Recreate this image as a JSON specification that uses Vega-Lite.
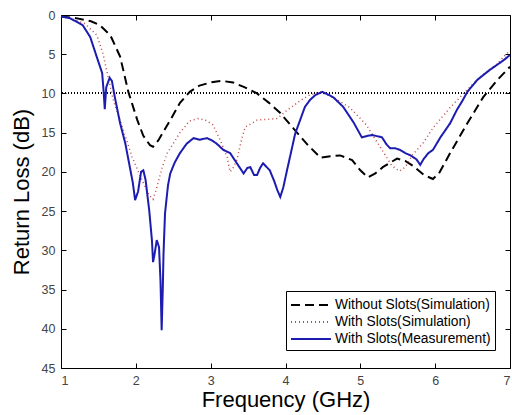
{
  "$schema": "https://vega.github.io/schema/vega-lite/v6.json",
  "width": 449,
  "height": 353,
  "autosize": {"type": "none"},
  "padding": {"left": 61, "top": 15, "right": 2, "bottom": 47},
  "background": "white",
  "config": {
    "view": {"stroke": "black", "strokeWidth": 1},
    "font": "Liberation Sans",
    "axis": {
      "grid": false,
      "domainColor": "black",
      "tickColor": "black",
      "labelColor": "#444444",
      "labelFont": "Liberation Sans",
      "labelFontSize": 12.5,
      "titleFont": "Liberation Sans",
      "titleFontWeight": "normal",
      "titleFontSize": 22,
      "titleColor": "black",
      "tickSize": -5
    },
    "legend": {
      "strokeColor": "black",
      "fillColor": "white",
      "padding": 4,
      "cornerRadius": 0
    }
  },
  "data": {
    "values": [
      {"f": 1.0, "rl": 0.2, "series": "Without Slots(Simulation)"},
      {"f": 1.2, "rl": 0.4, "series": "Without Slots(Simulation)"},
      {"f": 1.4, "rl": 0.8, "series": "Without Slots(Simulation)"},
      {"f": 1.52, "rl": 1.3, "series": "Without Slots(Simulation)"},
      {"f": 1.66, "rl": 2.6, "series": "Without Slots(Simulation)"},
      {"f": 1.79, "rl": 5.3, "series": "Without Slots(Simulation)"},
      {"f": 1.9, "rl": 9.8, "series": "Without Slots(Simulation)"},
      {"f": 2.02, "rl": 13.4, "series": "Without Slots(Simulation)"},
      {"f": 2.1, "rl": 15.4, "series": "Without Slots(Simulation)"},
      {"f": 2.19, "rl": 16.6, "series": "Without Slots(Simulation)"},
      {"f": 2.23, "rl": 16.8, "series": "Without Slots(Simulation)"},
      {"f": 2.3, "rl": 16.0, "series": "Without Slots(Simulation)"},
      {"f": 2.46, "rl": 13.4, "series": "Without Slots(Simulation)"},
      {"f": 2.59, "rl": 11.2, "series": "Without Slots(Simulation)"},
      {"f": 2.72, "rl": 9.8, "series": "Without Slots(Simulation)"},
      {"f": 2.85, "rl": 9.0, "series": "Without Slots(Simulation)"},
      {"f": 3.0, "rl": 8.6, "series": "Without Slots(Simulation)"},
      {"f": 3.15, "rl": 8.4, "series": "Without Slots(Simulation)"},
      {"f": 3.3, "rl": 8.6, "series": "Without Slots(Simulation)"},
      {"f": 3.45, "rl": 9.2, "series": "Without Slots(Simulation)"},
      {"f": 3.62, "rl": 10.0, "series": "Without Slots(Simulation)"},
      {"f": 3.78, "rl": 11.2, "series": "Without Slots(Simulation)"},
      {"f": 3.93, "rl": 12.5, "series": "Without Slots(Simulation)"},
      {"f": 4.1, "rl": 14.4, "series": "Without Slots(Simulation)"},
      {"f": 4.3, "rl": 16.6, "series": "Without Slots(Simulation)"},
      {"f": 4.47, "rl": 18.2, "series": "Without Slots(Simulation)"},
      {"f": 4.6, "rl": 18.0, "series": "Without Slots(Simulation)"},
      {"f": 4.73, "rl": 17.9, "series": "Without Slots(Simulation)"},
      {"f": 4.89, "rl": 18.5, "series": "Without Slots(Simulation)"},
      {"f": 5.0, "rl": 19.8, "series": "Without Slots(Simulation)"},
      {"f": 5.1, "rl": 20.7, "series": "Without Slots(Simulation)"},
      {"f": 5.2, "rl": 20.2, "series": "Without Slots(Simulation)"},
      {"f": 5.3, "rl": 19.4, "series": "Without Slots(Simulation)"},
      {"f": 5.49, "rl": 18.3, "series": "Without Slots(Simulation)"},
      {"f": 5.6, "rl": 18.6, "series": "Without Slots(Simulation)"},
      {"f": 5.7, "rl": 19.2, "series": "Without Slots(Simulation)"},
      {"f": 5.85, "rl": 20.4, "series": "Without Slots(Simulation)"},
      {"f": 5.97, "rl": 20.9, "series": "Without Slots(Simulation)"},
      {"f": 6.05, "rl": 20.2, "series": "Without Slots(Simulation)"},
      {"f": 6.2, "rl": 17.6, "series": "Without Slots(Simulation)"},
      {"f": 6.43, "rl": 13.8, "series": "Without Slots(Simulation)"},
      {"f": 6.64, "rl": 10.5, "series": "Without Slots(Simulation)"},
      {"f": 6.83, "rl": 8.3, "series": "Without Slots(Simulation)"},
      {"f": 7.0, "rl": 6.6, "series": "Without Slots(Simulation)"},

      {"f": 1.0, "rl": 0.2, "series": "With Slots(Simulation)"},
      {"f": 1.15, "rl": 0.5, "series": "With Slots(Simulation)"},
      {"f": 1.32, "rl": 1.1, "series": "With Slots(Simulation)"},
      {"f": 1.48, "rl": 2.6, "series": "With Slots(Simulation)"},
      {"f": 1.56, "rl": 4.9, "series": "With Slots(Simulation)"},
      {"f": 1.63, "rl": 7.9, "series": "With Slots(Simulation)"},
      {"f": 1.7, "rl": 10.9, "series": "With Slots(Simulation)"},
      {"f": 1.82, "rl": 14.3, "series": "With Slots(Simulation)"},
      {"f": 1.95, "rl": 18.1, "series": "With Slots(Simulation)"},
      {"f": 2.08, "rl": 21.0, "series": "With Slots(Simulation)"},
      {"f": 2.18, "rl": 23.0, "series": "With Slots(Simulation)"},
      {"f": 2.23, "rl": 23.5, "series": "With Slots(Simulation)"},
      {"f": 2.28, "rl": 22.0, "series": "With Slots(Simulation)"},
      {"f": 2.35, "rl": 19.5, "series": "With Slots(Simulation)"},
      {"f": 2.42, "rl": 17.6, "series": "With Slots(Simulation)"},
      {"f": 2.59, "rl": 15.0, "series": "With Slots(Simulation)"},
      {"f": 2.72, "rl": 13.5, "series": "With Slots(Simulation)"},
      {"f": 2.83, "rl": 13.2, "series": "With Slots(Simulation)"},
      {"f": 2.93, "rl": 13.4, "series": "With Slots(Simulation)"},
      {"f": 3.03, "rl": 14.0, "series": "With Slots(Simulation)"},
      {"f": 3.13, "rl": 16.0, "series": "With Slots(Simulation)"},
      {"f": 3.22, "rl": 18.1, "series": "With Slots(Simulation)"},
      {"f": 3.26, "rl": 20.0, "series": "With Slots(Simulation)"},
      {"f": 3.3, "rl": 19.5, "series": "With Slots(Simulation)"},
      {"f": 3.35, "rl": 18.5, "series": "With Slots(Simulation)"},
      {"f": 3.41, "rl": 16.0, "series": "With Slots(Simulation)"},
      {"f": 3.46, "rl": 14.3, "series": "With Slots(Simulation)"},
      {"f": 3.62, "rl": 13.4, "series": "With Slots(Simulation)"},
      {"f": 3.89, "rl": 13.2, "series": "With Slots(Simulation)"},
      {"f": 4.0, "rl": 12.3, "series": "With Slots(Simulation)"},
      {"f": 4.2, "rl": 10.9, "series": "With Slots(Simulation)"},
      {"f": 4.3, "rl": 10.3, "series": "With Slots(Simulation)"},
      {"f": 4.46, "rl": 9.8, "series": "With Slots(Simulation)"},
      {"f": 4.64, "rl": 10.5, "series": "With Slots(Simulation)"},
      {"f": 4.86, "rl": 11.8, "series": "With Slots(Simulation)"},
      {"f": 5.08, "rl": 14.0, "series": "With Slots(Simulation)"},
      {"f": 5.25, "rl": 16.6, "series": "With Slots(Simulation)"},
      {"f": 5.42, "rl": 19.2, "series": "With Slots(Simulation)"},
      {"f": 5.52, "rl": 19.9, "series": "With Slots(Simulation)"},
      {"f": 5.6, "rl": 19.4, "series": "With Slots(Simulation)"},
      {"f": 5.7, "rl": 17.8, "series": "With Slots(Simulation)"},
      {"f": 5.85, "rl": 16.2, "series": "With Slots(Simulation)"},
      {"f": 5.97, "rl": 14.4, "series": "With Slots(Simulation)"},
      {"f": 6.2, "rl": 11.8, "series": "With Slots(Simulation)"},
      {"f": 6.4, "rl": 9.8, "series": "With Slots(Simulation)"},
      {"f": 6.6, "rl": 7.9, "series": "With Slots(Simulation)"},
      {"f": 6.83, "rl": 6.2, "series": "With Slots(Simulation)"},
      {"f": 7.0, "rl": 4.5, "series": "With Slots(Simulation)"},

      {"f": 1.0, "rl": 0.2, "series": "With Slots(Measurement)"},
      {"f": 1.12, "rl": 0.4, "series": "With Slots(Measurement)"},
      {"f": 1.29, "rl": 1.3, "series": "With Slots(Measurement)"},
      {"f": 1.39, "rl": 2.8, "series": "With Slots(Measurement)"},
      {"f": 1.48, "rl": 5.4, "series": "With Slots(Measurement)"},
      {"f": 1.55, "rl": 7.4, "series": "With Slots(Measurement)"},
      {"f": 1.57, "rl": 9.8, "series": "With Slots(Measurement)"},
      {"f": 1.585, "rl": 12.0, "series": "With Slots(Measurement)"},
      {"f": 1.605, "rl": 9.2, "series": "With Slots(Measurement)"},
      {"f": 1.65, "rl": 8.0, "series": "With Slots(Measurement)"},
      {"f": 1.68, "rl": 8.4, "series": "With Slots(Measurement)"},
      {"f": 1.72, "rl": 10.5, "series": "With Slots(Measurement)"},
      {"f": 1.79, "rl": 13.8, "series": "With Slots(Measurement)"},
      {"f": 1.86, "rl": 16.4, "series": "With Slots(Measurement)"},
      {"f": 1.92, "rl": 19.4, "series": "With Slots(Measurement)"},
      {"f": 1.96, "rl": 21.4, "series": "With Slots(Measurement)"},
      {"f": 1.99, "rl": 23.6, "series": "With Slots(Measurement)"},
      {"f": 2.03, "rl": 22.5, "series": "With Slots(Measurement)"},
      {"f": 2.07, "rl": 20.0, "series": "With Slots(Measurement)"},
      {"f": 2.1, "rl": 19.8, "series": "With Slots(Measurement)"},
      {"f": 2.13, "rl": 21.0, "series": "With Slots(Measurement)"},
      {"f": 2.18, "rl": 25.0, "series": "With Slots(Measurement)"},
      {"f": 2.215, "rl": 28.7, "series": "With Slots(Measurement)"},
      {"f": 2.23, "rl": 31.5, "series": "With Slots(Measurement)"},
      {"f": 2.25, "rl": 30.5, "series": "With Slots(Measurement)"},
      {"f": 2.28, "rl": 28.7, "series": "With Slots(Measurement)"},
      {"f": 2.31, "rl": 29.6, "series": "With Slots(Measurement)"},
      {"f": 2.33, "rl": 34.0, "series": "With Slots(Measurement)"},
      {"f": 2.345, "rl": 40.2, "series": "With Slots(Measurement)"},
      {"f": 2.36, "rl": 35.0, "series": "With Slots(Measurement)"},
      {"f": 2.37, "rl": 30.4, "series": "With Slots(Measurement)"},
      {"f": 2.39, "rl": 25.3, "series": "With Slots(Measurement)"},
      {"f": 2.43, "rl": 21.7, "series": "With Slots(Measurement)"},
      {"f": 2.46, "rl": 20.2, "series": "With Slots(Measurement)"},
      {"f": 2.52, "rl": 18.8, "series": "With Slots(Measurement)"},
      {"f": 2.59, "rl": 17.6, "series": "With Slots(Measurement)"},
      {"f": 2.68, "rl": 16.4, "series": "With Slots(Measurement)"},
      {"f": 2.77, "rl": 15.7, "series": "With Slots(Measurement)"},
      {"f": 2.85, "rl": 15.9, "series": "With Slots(Measurement)"},
      {"f": 2.95, "rl": 15.7, "series": "With Slots(Measurement)"},
      {"f": 3.02, "rl": 16.0, "series": "With Slots(Measurement)"},
      {"f": 3.08, "rl": 16.4, "series": "With Slots(Measurement)"},
      {"f": 3.17, "rl": 17.2, "series": "With Slots(Measurement)"},
      {"f": 3.26, "rl": 17.6, "series": "With Slots(Measurement)"},
      {"f": 3.35, "rl": 18.9, "series": "With Slots(Measurement)"},
      {"f": 3.44, "rl": 20.2, "series": "With Slots(Measurement)"},
      {"f": 3.49, "rl": 19.5, "series": "With Slots(Measurement)"},
      {"f": 3.53, "rl": 19.4, "series": "With Slots(Measurement)"},
      {"f": 3.58, "rl": 20.4, "series": "With Slots(Measurement)"},
      {"f": 3.62, "rl": 20.4, "series": "With Slots(Measurement)"},
      {"f": 3.66, "rl": 19.5, "series": "With Slots(Measurement)"},
      {"f": 3.7, "rl": 18.9, "series": "With Slots(Measurement)"},
      {"f": 3.75, "rl": 19.4, "series": "With Slots(Measurement)"},
      {"f": 3.79, "rl": 19.8, "series": "With Slots(Measurement)"},
      {"f": 3.85, "rl": 21.2, "series": "With Slots(Measurement)"},
      {"f": 3.89, "rl": 22.3, "series": "With Slots(Measurement)"},
      {"f": 3.93, "rl": 23.2, "series": "With Slots(Measurement)"},
      {"f": 3.97, "rl": 22.0, "series": "With Slots(Measurement)"},
      {"f": 4.02, "rl": 19.8, "series": "With Slots(Measurement)"},
      {"f": 4.13, "rl": 15.1, "series": "With Slots(Measurement)"},
      {"f": 4.26, "rl": 11.7, "series": "With Slots(Measurement)"},
      {"f": 4.33, "rl": 10.8, "series": "With Slots(Measurement)"},
      {"f": 4.4, "rl": 10.2, "series": "With Slots(Measurement)"},
      {"f": 4.49, "rl": 9.8, "series": "With Slots(Measurement)"},
      {"f": 4.56, "rl": 10.1, "series": "With Slots(Measurement)"},
      {"f": 4.64, "rl": 10.5, "series": "With Slots(Measurement)"},
      {"f": 4.77, "rl": 11.7, "series": "With Slots(Measurement)"},
      {"f": 4.91, "rl": 13.7, "series": "With Slots(Measurement)"},
      {"f": 5.02, "rl": 15.6, "series": "With Slots(Measurement)"},
      {"f": 5.1, "rl": 15.4, "series": "With Slots(Measurement)"},
      {"f": 5.16, "rl": 15.3, "series": "With Slots(Measurement)"},
      {"f": 5.29, "rl": 15.6, "series": "With Slots(Measurement)"},
      {"f": 5.35, "rl": 16.5, "series": "With Slots(Measurement)"},
      {"f": 5.4, "rl": 17.0, "series": "With Slots(Measurement)"},
      {"f": 5.47, "rl": 17.0, "series": "With Slots(Measurement)"},
      {"f": 5.53, "rl": 17.2, "series": "With Slots(Measurement)"},
      {"f": 5.6, "rl": 17.6, "series": "With Slots(Measurement)"},
      {"f": 5.67, "rl": 17.9, "series": "With Slots(Measurement)"},
      {"f": 5.75, "rl": 18.4, "series": "With Slots(Measurement)"},
      {"f": 5.8, "rl": 19.1, "series": "With Slots(Measurement)"},
      {"f": 5.85, "rl": 18.3, "series": "With Slots(Measurement)"},
      {"f": 5.91, "rl": 17.6, "series": "With Slots(Measurement)"},
      {"f": 5.97, "rl": 17.2, "series": "With Slots(Measurement)"},
      {"f": 6.07, "rl": 15.6, "series": "With Slots(Measurement)"},
      {"f": 6.2, "rl": 13.8, "series": "With Slots(Measurement)"},
      {"f": 6.29, "rl": 12.1, "series": "With Slots(Measurement)"},
      {"f": 6.36, "rl": 11.0, "series": "With Slots(Measurement)"},
      {"f": 6.43, "rl": 9.8, "series": "With Slots(Measurement)"},
      {"f": 6.56, "rl": 8.3, "series": "With Slots(Measurement)"},
      {"f": 6.65, "rl": 7.6, "series": "With Slots(Measurement)"},
      {"f": 6.73, "rl": 7.0, "series": "With Slots(Measurement)"},
      {"f": 6.82, "rl": 6.4, "series": "With Slots(Measurement)"},
      {"f": 6.91, "rl": 5.8, "series": "With Slots(Measurement)"},
      {"f": 7.0, "rl": 5.1, "series": "With Slots(Measurement)"}
    ]
  },
  "resolve": {"axis": {"x": "independent", "y": "independent"}},
  "layer": [
    {
      "mark": {"type": "line", "opacity": 0},
      "encoding": {
        "x": {"field": "f", "type": "quantitative", "scale": {"domain": [1, 7], "nice": false, "zero": false},
              "axis": {"orient": "top", "values": [1, 2, 3, 4, 5, 6, 7], "labels": false, "domain": false, "title": null}},
        "y": {"field": "rl", "type": "quantitative", "scale": {"domain": [0, 45], "reverse": true, "nice": false},
              "axis": {"orient": "right", "values": [0, 5, 10, 15, 20, 25, 30, 35, 40, 45], "labels": false, "domain": false, "title": null}}
      }
    },
    {
      "mark": {"type": "rule", "color": "black", "strokeWidth": 1, "strokeDash": [1, 2]},
      "encoding": {"y": {"datum": 10, "type": "quantitative", "axis": null}}
    },
    {
      "transform": [{"filter": "datum.series === 'Without Slots(Simulation)'"}],
      "mark": {"type": "line", "strokeWidth": 2},
      "encoding": {
        "x": {"field": "f", "type": "quantitative",
              "axis": {"orient": "bottom", "values": [1, 2, 3, 4, 5, 6, 7], "title": "Frequency (GHz)", "labelPadding": 11, "titlePadding": 3}},
        "y": {"field": "rl", "type": "quantitative",
              "axis": {"orient": "left", "values": [0, 5, 10, 15, 20, 25, 30, 35, 40, 45], "title": "Return Loss (dB)", "labelPadding": 11, "titlePadding": 8}},
        "color": {"field": "series", "type": "nominal",
                  "scale": {"domain": ["Without Slots(Simulation)", "With Slots(Simulation)", "With Slots(Measurement)"], "range": ["#000000", "#c04848", "#1c1cb0"]},
                  "legend": {"title": null, "orient": "none", "legendX": 225, "legendY": 276, "symbolType": "M-1,0H3.44", "symbolSize": 324, "symbolStrokeWidth": 2, "labelFontSize": 13.8, "labelColor": "black", "labelOffset": 25, "rowPadding": 0, "labelFont": "Liberation Sans"}},
        "strokeDash": {"field": "series", "type": "nominal",
                       "scale": {"domain": ["Without Slots(Simulation)", "With Slots(Simulation)", "With Slots(Measurement)"], "range": [[9, 5], [1, 3], [1, 0]]},
                       "legend": null}
      }
    },
    {
      "transform": [{"filter": "datum.series === 'With Slots(Simulation)'"}],
      "mark": {"type": "line", "strokeWidth": 1.5},
      "encoding": {
        "x": {"field": "f", "type": "quantitative", "axis": null},
        "y": {"field": "rl", "type": "quantitative", "axis": null},
        "color": {"field": "series", "type": "nominal"},
        "strokeDash": {"field": "series", "type": "nominal"}
      }
    },
    {
      "transform": [{"filter": "datum.series === 'With Slots(Measurement)'"}],
      "mark": {"type": "line", "strokeWidth": 2},
      "encoding": {
        "x": {"field": "f", "type": "quantitative", "axis": null},
        "y": {"field": "rl", "type": "quantitative", "axis": null},
        "color": {"field": "series", "type": "nominal"},
        "strokeDash": {"field": "series", "type": "nominal"}
      }
    }
  ]
}
